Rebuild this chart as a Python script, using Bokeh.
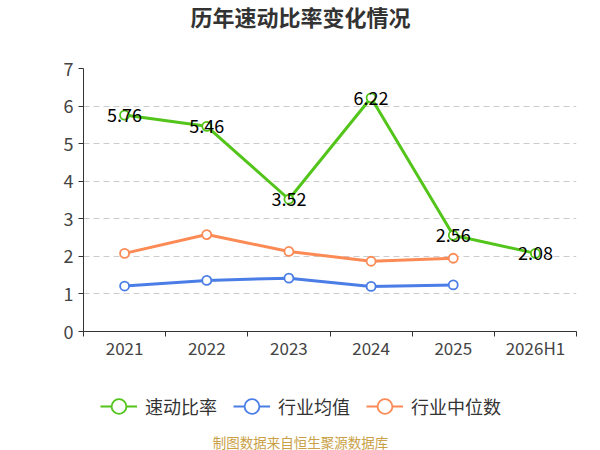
from bokeh.plotting import figure
from bokeh.layouts import column
from bokeh.models import Range1d, FixedTicker, Legend, LegendItem, ColumnDataSource, CustomJSTickFormatter, Label
from bokeh.core.properties import value
from bokeh.embed import file_html
from bokeh.resources import INLINE

categories = ["2021", "2022", "2023", "2024", "2025", "2026H1"]
quick_ratio = [5.76, 5.46, 3.52, 6.22, 2.56, 2.08]
industry_mean = [1.21, 1.36, 1.42, 1.20, 1.24]
industry_median = [2.08, 2.58, 2.13, 1.87, 1.95]
y_ticks = [0, 1, 2, 3, 4, 5, 6, 7]
series_names = ["速动比率", "行业均值", "行业中位数"]
title_text = "历年速动比率变化情况"
source_text = "制图数据来自恒生聚源数据库"

GREEN = "#52c41a"
BLUE = "#4a7ee6"
ORANGE = "#fc8a55"
FONT = "Noto Sans CJK SC"

W = 600
H0, H1, H2 = 36, 339, 75
BL, BR = 83, 24
FRAME_W = W - BL - BR
n = len(categories)
xs = [i + 0.5 for i in range(n)]

def panel(h):
    f = figure(width=W, height=h, output_backend="svg", toolbar_location=None,
               x_range=Range1d(0, 1), y_range=Range1d(0, 1),
               x_axis_type=None, y_axis_type=None,
               min_border_left=BL, min_border_right=BR, min_border_top=0, min_border_bottom=0)
    f.outline_line_color = None
    f.border_fill_color = "white"
    f.background_fill_color = "white"
    return f

# title panel
p0 = panel(H0)
p0.add_layout(Label(x=(W / 2 - BL) / FRAME_W, y=0.58, text=title_text, text_align="center",
                    text_baseline="middle", text_font=FONT, text_font_size="22px",
                    text_font_style="bold", text_color="#333333"))

# main chart
p = figure(width=W, height=H1, output_backend="svg", toolbar_location=None,
           x_range=Range1d(0, n), y_range=Range1d(0, 7),
           min_border_left=BL, min_border_right=BR, min_border_top=68 - H0,
           min_border_bottom=H1 - (331 - H0))
p.outline_line_color = None
p.background_fill_color = "white"
p.border_fill_color = "white"

xa = p.xaxis[0]
xa.ticker = FixedTicker(ticks=xs, minor_ticks=list(range(n + 1)))
xa.formatter = CustomJSTickFormatter(args=dict(cats=categories), code="return cats[Math.floor(tick)];")
xa.major_tick_out = 0
xa.major_tick_in = 0
xa.minor_tick_out = 5
xa.minor_tick_in = 0
xa.minor_tick_line_color = "#333333"
xa.axis_line_color = "#333333"
xa.major_label_text_font_size = "17px"
xa.major_label_text_color = "#444444"
xa.major_label_text_font = FONT
xa.major_label_standoff = -2

ya = p.yaxis[0]
ya.ticker = FixedTicker(ticks=y_ticks, minor_ticks=[])
ya.major_tick_out = 5
ya.major_tick_in = 0
ya.major_tick_line_color = "#333333"
ya.axis_line_color = "#333333"
ya.minor_tick_line_color = None
ya.major_label_text_font_size = "18px"
ya.major_label_text_color = "#444444"
ya.major_label_text_font = FONT
ya.major_label_standoff = 5

p.xgrid.visible = False
p.ygrid.ticker = FixedTicker(ticks=y_ticks[1:])
p.ygrid.grid_line_color = "#cccccc"
p.ygrid.grid_line_dash = "6 4"
p.ygrid.grid_line_width = 1

src_q = ColumnDataSource(dict(x=xs, y=quick_ratio, lab=[f"{v:.2f}" for v in quick_ratio]))
src_m = ColumnDataSource(dict(x=xs[:len(industry_mean)], y=industry_mean))
src_d = ColumnDataSource(dict(x=xs[:len(industry_median)], y=industry_median))

for src, col in [(src_d, ORANGE), (src_m, BLUE), (src_q, GREEN)]:
    p.line("x", "y", source=src, line_color=col, line_width=3)
    p.scatter("x", "y", source=src, marker="circle", size=9, fill_color="white",
              line_color=col, line_width=1.8)

p.text("x", "y", text="lab", source=src_q, text_align="center", text_baseline="middle",
       text_font=value(FONT), text_font_size="18px", text_color="#000000")

# legend + source panel
p2 = panel(H2)
nan = float("nan")
items = []
for name, col in zip(series_names, [GREEN, BLUE, ORANGE]):
    s = ColumnDataSource(dict(x=[nan], y=[nan]))
    r1 = p2.line("x", "y", source=s, line_color=col, line_width=1.8)
    r2 = p2.scatter("x", "y", source=s, marker="circle", size=15, fill_color="white",
                    line_color=col, line_width=1.8)
    items.append(LegendItem(label=name, renderers=[r1, r2]))

legend = Legend(items=items, orientation="horizontal", location=(100 - BL, 25),
                glyph_width=37, glyph_height=38, label_height=38, label_standoff=8,
                spacing=16, padding=0, margin=0, border_line_color=None,
                background_fill_alpha=0, label_text_font=FONT,
                label_text_font_size="18px", label_text_color="#333333")
p2.add_layout(legend, "center")

p2.add_layout(Label(x=(W / 2 - BL) / FRAME_W, y=9 / H2, text=source_text, text_align="center",
                    text_baseline="middle", text_font=FONT, text_font_size="13.5px",
                    text_color="#c9a046"))

layout = column(p0, p, p2, spacing=0)
open("out.html", "w").write(file_html(layout, INLINE))
